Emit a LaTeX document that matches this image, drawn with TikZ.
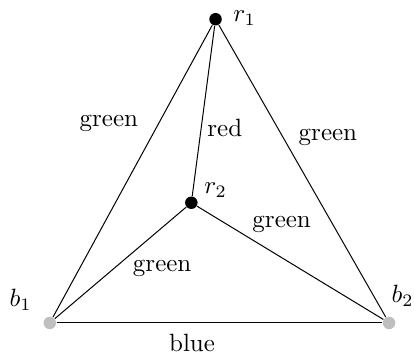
\documentclass[tikz,border=0pt]{standalone}
\tikzset{
  rvert/.style={circle, fill=black, inner sep=0pt, minimum size=5pt},
  bvert/.style={circle, fill=lightgray, inner sep=0pt, minimum size=5pt}
}
\begin{document}
\begin{tikzpicture}
\useasboundingbox (-0.70,-0.45) rectangle (5.12,4.54);

\node[rvert] (r1) at (2.33,4.27) {};
\node[rvert] (r2) at (1.99,1.69) {};
\node[bvert] (b1) at (0,0) {};
\node[bvert] (b2) at (4.77,0) {};

\draw (b1) -- (r1) -- (b2);
\draw (r1) -- (r2);
\draw (b1) -- (r2) -- (b2);
\draw (b1) -- (b2);

\node (lr1) at (2.74,4.29) {$r_1$};
\node (lr2) at (2.33,1.87) {$r_2$};
\node (lb1) at (-0.41,0.32) {$b_1$};
\node (lb2) at (4.96,0.38) {$b_2$};

\node (e1) at (0.83,2.80) {green};
\node (e2) at (2.46,2.74) {red};
\node (e3) at (3.91,2.61) {green};
\node (e4) at (3.26,1.38) {green};
\node (e5) at (1.58,0.77) {green};
\node (e6) at (2.00,-0.28) {blue};
\end{tikzpicture}
\end{document}
